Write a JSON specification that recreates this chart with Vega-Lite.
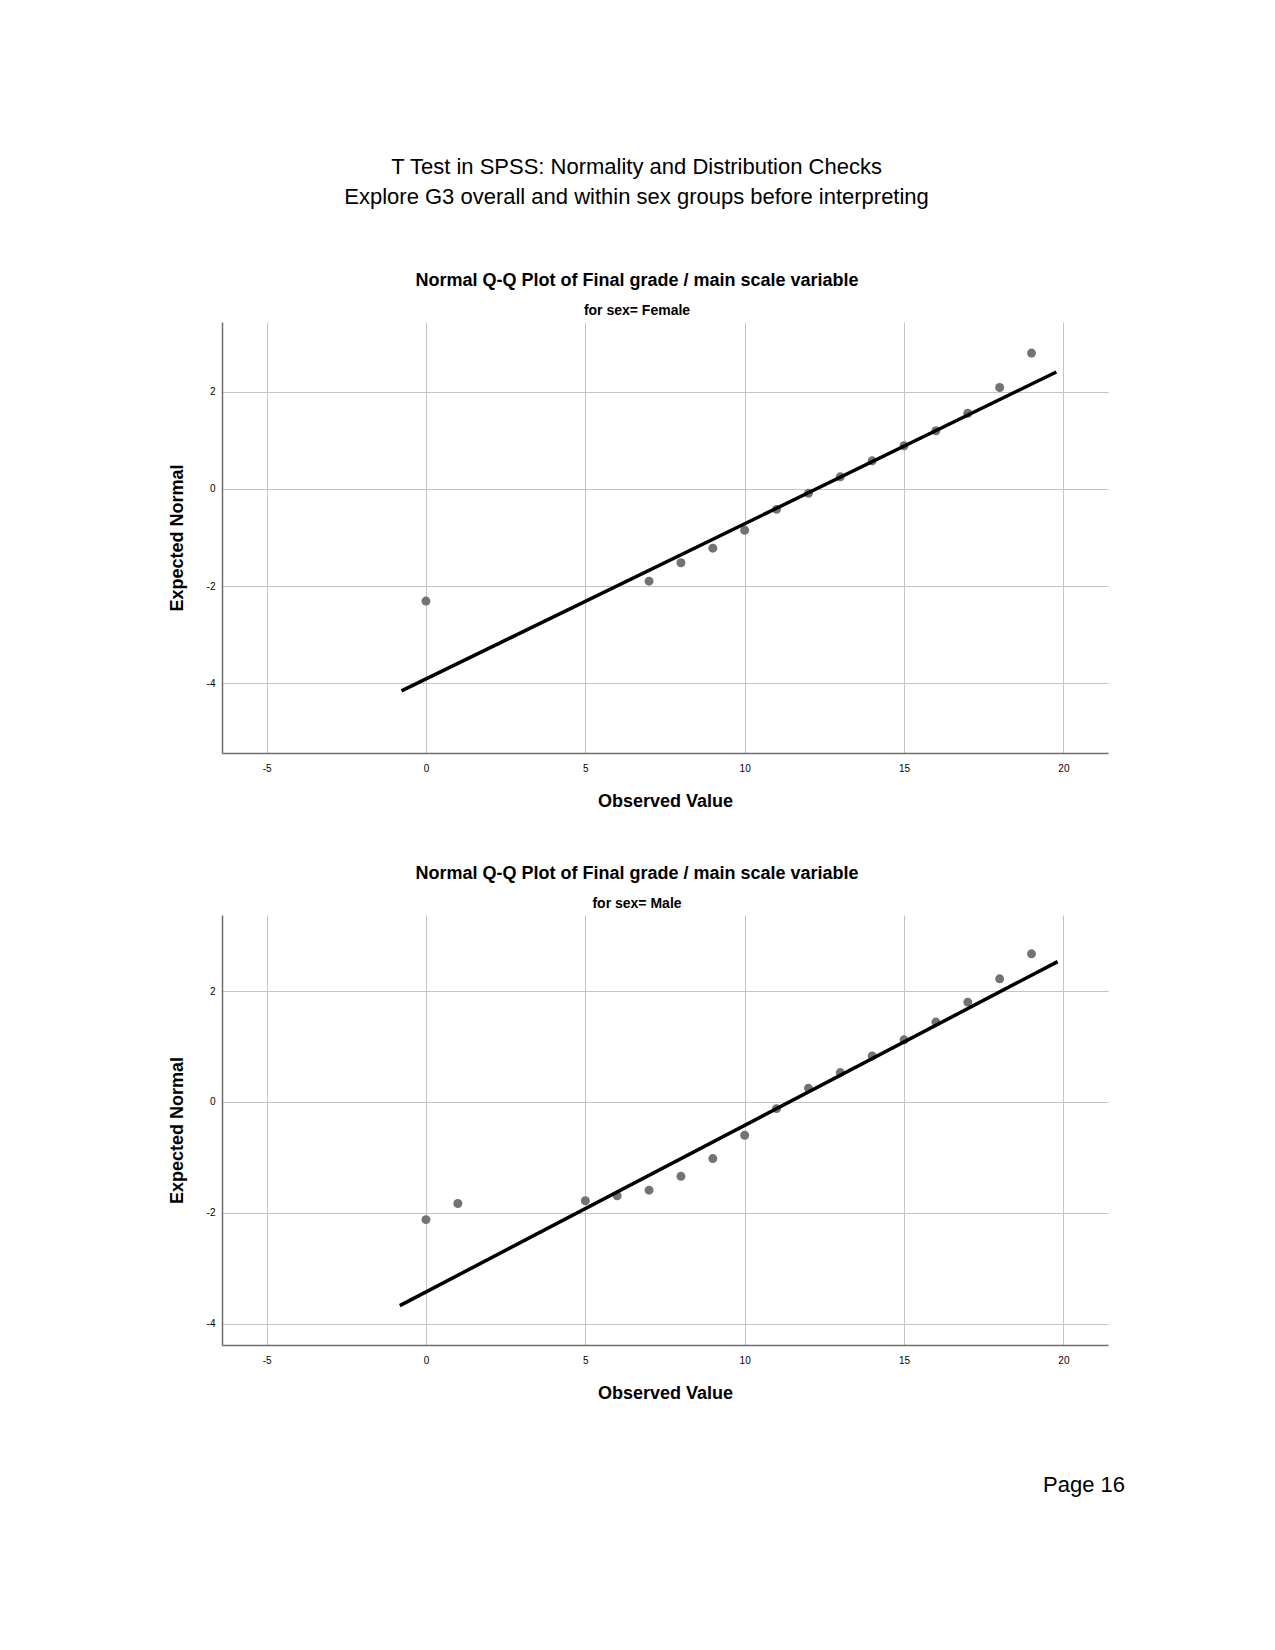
{
  "$schema": "https://vega.github.io/schema/vega-lite/v6.json",
  "padding": {"left": 168, "top": 156, "right": 0, "bottom": 0},
  "background": "white",
  "config": {
    "font": "Liberation Sans",
    "view": {"stroke": null},
    "axis": {
      "grid": true,
      "gridColor": "#c4c4c4",
      "gridWidth": 1,
      "domainColor": "#6e6e6e",
      "domainWidth": 1.5,
      "ticks": false,
      "tickSize": 0,
      "labelFont": "Liberation Sans",
      "labelFontSize": 10,
      "labelColor": "#000000",
      "labelExpr": "datum.value + ''",
      "titleFont": "Liberation Sans",
      "titleFontSize": 18,
      "titleFontWeight": "bold",
      "titleColor": "#000000"
    },
    "title": {
      "font": "Liberation Sans",
      "color": "#000000",
      "subtitleColor": "#000000",
      "subtitleFont": "Liberation Sans"
    }
  },
  "title": {
    "text": ["T Test in SPSS: Normality and Distribution Checks", "Explore G3 overall and within sex groups before interpreting"],
    "fontSize": 22,
    "fontWeight": "normal",
    "lineHeight": 30,
    "anchor": "middle",
    "offset": 63,
    "dx": -10
  },
  "datasets": {
    "female_points": [
      {"observed": 0, "expected": -2.31},
      {"observed": 7, "expected": -1.90},
      {"observed": 8, "expected": -1.52},
      {"observed": 9, "expected": -1.22},
      {"observed": 10, "expected": -0.85},
      {"observed": 11, "expected": -0.42},
      {"observed": 12, "expected": -0.09},
      {"observed": 13, "expected": 0.25},
      {"observed": 14, "expected": 0.58},
      {"observed": 15, "expected": 0.89},
      {"observed": 16, "expected": 1.20},
      {"observed": 17, "expected": 1.56},
      {"observed": 18, "expected": 2.09},
      {"observed": 19, "expected": 2.80}
    ],
    "female_line": [
      {"observed": -0.77, "expected": -4.16},
      {"observed": 19.78, "expected": 2.41}
    ],
    "male_points": [
      {"observed": 0, "expected": -2.12},
      {"observed": 1, "expected": -1.83},
      {"observed": 5, "expected": -1.78},
      {"observed": 6, "expected": -1.69},
      {"observed": 7, "expected": -1.59},
      {"observed": 8, "expected": -1.34},
      {"observed": 9, "expected": -1.02},
      {"observed": 10, "expected": -0.60},
      {"observed": 11, "expected": -0.12},
      {"observed": 12, "expected": 0.25},
      {"observed": 13, "expected": 0.53},
      {"observed": 14, "expected": 0.83},
      {"observed": 15, "expected": 1.12},
      {"observed": 16, "expected": 1.44},
      {"observed": 17, "expected": 1.80},
      {"observed": 18, "expected": 2.22},
      {"observed": 19, "expected": 2.67}
    ],
    "male_line": [
      {"observed": -0.82, "expected": -3.67},
      {"observed": 19.82, "expected": 2.53}
    ],
    "page": [{"label": "Page 16", "pos": 1}]
  },
  "vconcat": [
    {
      "width": 886,
      "height": 431,
      "title": {
        "text": "Normal Q-Q Plot of Final grade / main scale variable",
        "subtitle": "for sex= Female",
        "fontSize": 18,
        "fontWeight": "bold",
        "subtitleFontSize": 14,
        "subtitleFontWeight": "bold",
        "subtitlePadding": 14,
        "anchor": "middle",
        "offset": 4,
        "dx": -28
      },
      "layer": [
        {
          "data": {"name": "female_points"},
          "mark": {"type": "circle", "size": 80, "color": "#737373", "opacity": 1},
          "encoding": {
            "x": {"field": "observed", "type": "quantitative",
                  "scale": {"domain": [-6.4, 21.4], "nice": false, "zero": false},
                  "axis": {"title": "Observed Value", "values": [-5, 0, 5, 10, 15, 20], "labelPadding": 10, "titlePadding": 19}},
            "y": {"field": "expected", "type": "quantitative",
                  "scale": {"domain": [-5.44, 3.44], "nice": false, "zero": false},
                  "axis": {"title": "Expected Normal", "values": [-4, -2, 0, 2], "labelPadding": 7, "titlePadding": 20}}
          }
        },
        {
          "data": {"name": "female_line"},
          "mark": {"type": "line", "color": "#000000", "strokeWidth": 3.5},
          "encoding": {
            "x": {"field": "observed", "type": "quantitative"},
            "y": {"field": "expected", "type": "quantitative"}
          }
        }
      ]
    },
    {
      "width": 886,
      "height": 430,
      "title": {
        "text": "Normal Q-Q Plot of Final grade / main scale variable",
        "subtitle": "for sex= Male",
        "fontSize": 18,
        "fontWeight": "bold",
        "subtitleFontSize": 14,
        "subtitleFontWeight": "bold",
        "subtitlePadding": 14,
        "anchor": "middle",
        "offset": 4,
        "dx": -28
      },
      "layer": [
        {
          "data": {"name": "male_points"},
          "mark": {"type": "circle", "size": 80, "color": "#737373", "opacity": 1},
          "encoding": {
            "x": {"field": "observed", "type": "quantitative",
                  "scale": {"domain": [-6.4, 21.4], "nice": false, "zero": false},
                  "axis": {"title": "Observed Value", "values": [-5, 0, 5, 10, 15, 20], "labelPadding": 10, "titlePadding": 19}},
            "y": {"field": "expected", "type": "quantitative",
                  "scale": {"domain": [-4.38, 3.37], "nice": false, "zero": false},
                  "axis": {"title": "Expected Normal", "values": [-4, -2, 0, 2], "labelPadding": 7, "titlePadding": 20}}
          }
        },
        {
          "data": {"name": "male_line"},
          "mark": {"type": "line", "color": "#000000", "strokeWidth": 3.5},
          "encoding": {
            "x": {"field": "observed", "type": "quantitative"},
            "y": {"field": "expected", "type": "quantitative"}
          }
        }
      ]
    },
    {
      "width": 903,
      "height": 56,
      "data": {"name": "page"},
      "mark": {"type": "text", "fontSize": 22, "align": "right", "baseline": "middle", "color": "#000000"},
      "encoding": {
        "x": {"field": "pos", "type": "quantitative", "scale": {"domain": [0, 1]}, "axis": null},
        "text": {"field": "label", "type": "nominal"}
      }
    }
  ],
  "spacing": 55
}
